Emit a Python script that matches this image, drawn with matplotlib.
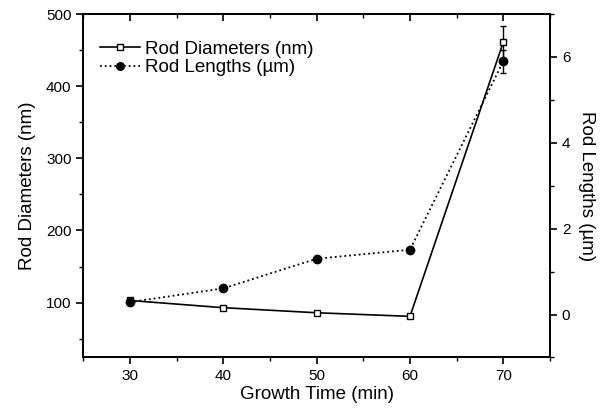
import numpy as np
import matplotlib
matplotlib.use('Agg')
import matplotlib.pyplot as plt
from matplotlib.ticker import MultipleLocator

plt.rcParams['font.family'] = ['Liberation Sans', 'DejaVu Sans']

# Data
time_min = [30, 40, 50, 60, 70]
diameters_nm = [103, 93, 86, 81, 461]
diameters_err = [0, 0, 0, 0, 22]
lengths_um = [0.29, 0.61, 1.30, 1.51, 5.90]
lengths_err = [0, 0, 0, 0, 0.27]

fig = plt.figure(figsize=(6.1, 4.12), dpi=100)
ax = fig.add_axes([0.1366, 0.1323, 0.765, 0.8337])
ax2 = ax.twinx()

# Rod diameters (left axis)
ax.errorbar(time_min, diameters_nm, yerr=diameters_err, color='black', lw=1.2,
            marker='s', ms=5, mfc='white', mec='black', mew=1.0,
            capsize=2.5, elinewidth=1.0, capthick=1.0, zorder=3)
# Rod lengths (right axis)
ax2.errorbar(time_min, lengths_um, yerr=lengths_err, color='black', lw=1.3, ls=':',
             marker='o', ms=6, mfc='black', mec='black',
             capsize=2.5, elinewidth=1.0, capthick=1.0, zorder=3)

ax.set_xlim(25, 75)
ax.set_ylim(24, 500)
ax2.set_ylim(-1, 7)

ax.xaxis.set_major_locator(MultipleLocator(10))
ax.xaxis.set_minor_locator(MultipleLocator(5))
ax.yaxis.set_major_locator(MultipleLocator(100))
ax.yaxis.set_minor_locator(MultipleLocator(50))
ax2.yaxis.set_major_locator(MultipleLocator(2))
ax2.yaxis.set_minor_locator(MultipleLocator(1))

ax.tick_params(axis='both', which='major', direction='out', length=5, width=1.2, labelsize=11)
ax.tick_params(axis='both', which='minor', direction='out', length=3, width=1.0)
ax2.tick_params(axis='y', which='major', direction='out', length=5, width=1.2, labelsize=11)
ax2.tick_params(axis='y', which='minor', direction='out', length=3, width=1.0)

# top ticks point inward
sec = ax.secondary_xaxis('top')
sec.xaxis.set_major_locator(MultipleLocator(10))
sec.xaxis.set_minor_locator(MultipleLocator(5))
sec.tick_params(which='major', direction='in', length=5, width=1.2, labeltop=False)
sec.tick_params(which='minor', direction='in', length=3, width=1.0)

for a in (ax, ax2):
    for s in a.spines.values():
        s.set_linewidth(1.3)
sec.spines['top'].set_linewidth(1.3)

ax.set_xlabel('Growth Time (min)', fontsize=13.5, labelpad=2)
ax.set_ylabel('Rod Diameters (nm)', fontsize=13.5, labelpad=7)
ax2.set_ylabel('Rod Lengths (µm)', fontsize=13.5, rotation=270, labelpad=18)

h1, = ax.plot([], [], color='black', lw=1.2, marker='s', ms=4.5, mfc='white', mec='black')
h2, = ax.plot([], [], color='black', lw=1.3, ls=':', marker='o', ms=5.5, mfc='black')
ax.legend([h1, h2], ['Rod Diameters (nm)', 'Rod Lengths (µm)'], loc='upper left',
          frameon=False, fontsize=13.5, handlelength=2.1, handletextpad=0.3,
          borderaxespad=0.0, labelspacing=0.08, bbox_to_anchor=(0.02, 0.945))

fig.savefig('out.png', dpi=100)
